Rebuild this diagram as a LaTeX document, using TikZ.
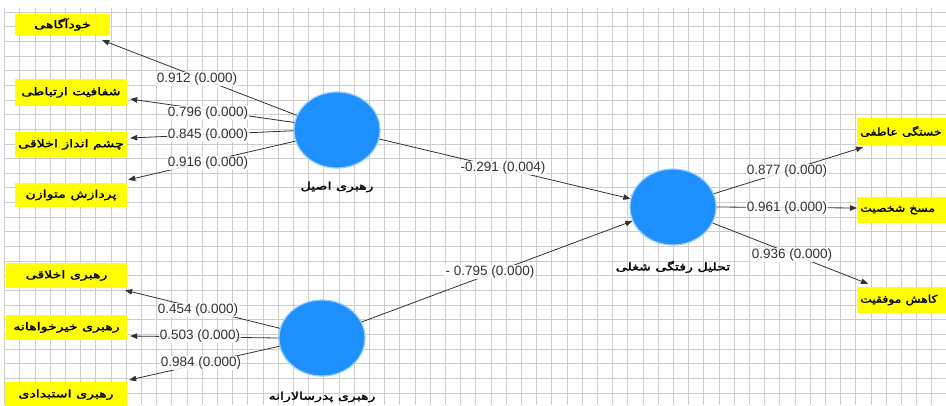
\documentclass[tikz,border=0pt]{standalone}
\usepackage{fontspec}
\usepackage{graphicx}
\setmainfont{Liberation Sans}
\newfontfamily\fa[Script=Arabic,FakeBold=1.5]{DejaVu Sans}
\TeXXeTstate=1
\newcommand{\pers}[1]{\scalebox{1.35}[1]{\beginR #1\endR}}
\newcommand{\persn}[1]{\scalebox{1.18}[1]{\beginR #1\endR}}
\usetikzlibrary{arrows.meta,calc,shapes.geometric}
\definecolor{gridc}{RGB}{205,205,205}
\definecolor{lvblue}{RGB}{30,144,255}
\definecolor{lvring}{RGB}{150,205,255}
\definecolor{ylw}{RGB}{255,255,0}
\definecolor{linec}{RGB}{50,50,50}
\definecolor{numc}{RGB}{50,50,50}
\begin{document}
\begin{tikzpicture}[x=1pt,y=-1pt,
  ind/.style={fill=ylw,inner sep=0pt,font=\fa\fontsize{10.5}{12}\selectfont},
  lv/.style={ellipse,fill=lvblue,draw=lvring,line width=1.2pt,minimum width=86,minimum height=76,inner sep=0pt},
  lvlab/.style={font=\fa\fontsize{10.5}{12}\selectfont,inner sep=1pt},
  arr/.style={draw=linec,line width=0.8pt,-{Triangle[length=7pt,width=5.5pt]}},
  num/.style={fill=white,fill opacity=0.85,text opacity=1,text=numc,inner sep=1pt,font=\fontsize{13.5}{15}\selectfont}
]
\clip (0,0) rectangle (946,405);
\fill[white] (0,0) rectangle (946,405);
% grid
\foreach \i in {0,...,61} \draw[gridc,line width=0.7pt] ({4.6+15.2*\i},8) -- ({4.6+15.2*\i},405);
\foreach \j in {0,...,26} \draw[gridc,line width=0.7pt] (4.6,{12+14.65*\j}) -- (946,{12+14.65*\j});

% indicator boxes (left)
\node[ind,minimum width=95,minimum height=21] (b1) at (62.5,24.5) {\pers{خودآگاهی}};
\node[ind,minimum width=112,minimum height=27] (b2) at (71,92.5) {\pers{شفافیت ارتباطی}};
\node[ind,minimum width=112,minimum height=25] (b3) at (71,144.5) {\pers{چشم انداز اخلاقی}};
\node[ind,minimum width=112,minimum height=24] (b4) at (71,195) {\pers{پردازش متوازن}};
\node[ind,minimum width=121,minimum height=25] (b5) at (66.5,275.5) {\pers{رهبری اخلاقی}};
\node[ind,minimum width=121,minimum height=25] (b6) at (66.5,327.5) {\pers{رهبری خیرخواهانه}};
\node[ind,minimum width=122,minimum height=25,anchor=north] (b7) at (66,382) {\raisebox{-3pt}{\pers{رهبری استبدادی}}};

% indicator boxes (right)
\node[ind,text width=110,align=left,inner xsep=3pt,minimum height=27,anchor=west] (r1) at (857,131.5) {\persn{خستگی عاطفی}};
\node[ind,text width=110,align=left,inner xsep=3pt,minimum height=26,anchor=west] (r2) at (857,210) {\persn{مسخ شخصیت}};
\node[ind,text width=110,align=left,inner xsep=3pt,minimum height=26,anchor=west] (r3) at (857,300) {\persn{کاهش موفقیت}};

% latent variables
\node[lv] (c1) at (337,130) {};
\node[lv] (c2) at (322,338) {};
\node[lv] (c3) at (673,207) {};
\node[lvlab] (t1) at (337,187) {\pers{رهبری اصیل}};
\node[lvlab] (t2) at (322,397) {\pers{رهبری پدرسالارانه}};
\node[lvlab] (t3) at (673,267) {\pers{تحلیل رفتگی شغلی}};

% outer loadings
\draw[arr] (c1.160) -- ($(b1.south east)+(-8,5)$);
\draw[arr] (c1.170) -- ($(b2.east)+(3,6.5)$);
\draw[arr] (c1.181) -- ($(b3.east)+(3,-6.5)$);
\draw[arr] (c1.195) -- ($(b4.north east)+(1,-3)$);
\draw[arr] (c2.167) -- ($(b5.south east)+(-2,2)$);
\draw[arr] (c2.180) -- ($(b6.east)+(3,8.5)$);
\draw[arr] (c2.191) -- ($(b7.north east)+(2,-2)$);
\draw[arr] (c3.18) -- ($(r1.south west)+(6,2)$);
\draw[arr] (c3.0) -- ($(r2.west)+(0,-2)$);
\draw[arr] (c3.-22) -- ($(r3.north west)+(11,-3)$);
% inner model
\draw[arr] (c1.-12) -- (c3.169);
\draw[arr] (c2.22) -- (c3.199);

% labels
\node[num] (n1) at (197,79) {0.912 (0.000)};
\node[num] (n2) at (208,113) {0.796 (0.000)};
\node[num] (n3) at (208,135) {0.845 (0.000)};
\node[num] (n4) at (208,163) {0.916 (0.000)};
\node[num] (n5) at (198,310) {0.454 (0.000)};
\node[num] (n6) at (200,336) {0.503 (0.000)};
\node[num] (n7) at (201,363) {0.984 (0.000)};
\node[num] (n8) at (503,168) {-0.291 (0.004)};
\node[num] (n9) at (490,272) {- 0.795 (0.000)};
\node[num] (n10) at (787,171) {0.877 (0.000)};
\node[num] (n11) at (787,208) {0.961 (0.000)};
\node[num] (n12) at (792,255) {0.936 (0.000)};
\end{tikzpicture}
\end{document}
